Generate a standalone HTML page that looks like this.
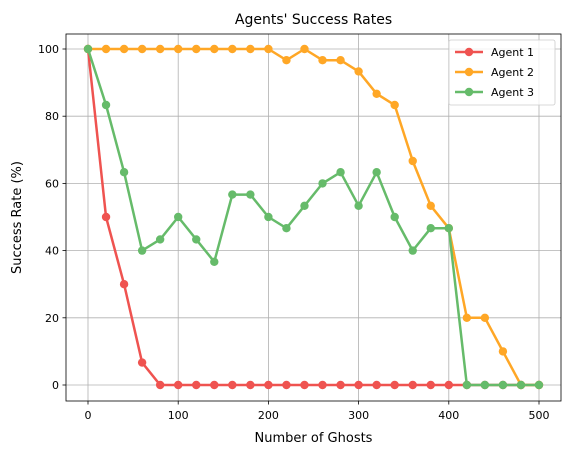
<!DOCTYPE html>
<html><head><meta charset="utf-8"><style>
body{margin:0;background:#fff;}
svg text{font-family:"DejaVu Sans","Liberation Sans",sans-serif;fill:#000;}
</style></head><body>
<svg id="chart" width="571" height="455" xmlns="http://www.w3.org/2000/svg">
<rect width="571" height="455" fill="#fff"/>
<g id="grid"></g>
<g id="axes"></g>
<g id="series"></g>
<text x="313.5" y="24" text-anchor="middle" font-size="14">Agents' Success Rates</text>
<text x="313.5" y="442" text-anchor="middle" font-size="13">Number of Ghosts</text>
<text x="21" y="217.5" text-anchor="middle" font-size="13" transform="rotate(-90 21 217.5)">Success Rate (%)</text>
<g id="legend"></g>
</svg>
<script>
const ghosts=[0,20,40,60,80,100,120,140,160,180,200,220,240,260,280,300,320,340,360,380,400,420,440,460,480,500];
const agent1=[100,50,30,6.67,0,0,0,0,0,0,0,0,0,0,0,0,0,0,0,0,0,0,0,0,0,0];
const agent2=[100,100,100,100,100,100,100,100,100,100,100,96.67,100,96.67,96.67,93.33,86.67,83.33,66.67,53.33,46.67,20,20,10,0,0];
const agent3=[100,83.33,63.33,40,43.33,50,43.33,36.67,56.67,56.67,50,46.67,53.33,60,63.33,53.33,63.33,50,40,46.67,46.67,0,0,0,0,0];
const xTicks=[0,100,200,300,400,500];
const yTicks=[0,20,40,60,80,100];
const seriesNames=["Agent 1","Agent 2","Agent 3"];
const NS="http://www.w3.org/2000/svg";
const L=66,R=561,T=34,B=401;
const xs=v=>88+v*(539-88)/500;
const ys=v=>385-v*(385-49)/100;
function mk(tag,attrs,parent){const e=document.createElementNS(NS,tag);for(const k in attrs)e.setAttribute(k,attrs[k]);parent.appendChild(e);return e;}
const grid=document.getElementById('grid'),axes=document.getElementById('axes'),ser=document.getElementById('series'),leg=document.getElementById('legend');
xTicks.forEach(t=>{const x=xs(t);
 const g=mk('line',{x1:x,x2:x,y1:T,y2:B,stroke:'#b0b0b0','stroke-width':0.8},grid);
 
 mk('line',{x1:x,x2:x,y1:B,y2:B+3.5,stroke:'#000','stroke-width':0.8},axes);
 const tx=mk('text',{x:x,y:B+18,'text-anchor':'middle','font-size':11},axes);tx.textContent=t;
 });
yTicks.forEach(t=>{const y=ys(t);
 const g=mk('line',{x1:L,x2:R,y1:y,y2:y,stroke:'#b0b0b0','stroke-width':0.8},grid);
 
 mk('line',{x1:L-3.5,x2:L,y1:y,y2:y,stroke:'#000','stroke-width':0.8},axes);
 const tx=mk('text',{x:L-7,y:y+4,'text-anchor':'end','font-size':11},axes);tx.textContent=t;
 });
const fr=mk('rect',{x:L,y:T,width:R-L,height:B-T,fill:'none',stroke:'#000','stroke-width':0.8},axes);

const data=[agent1,agent2,agent3],colors=['#ef5350','#ffa726','#66bb6a'];
data.forEach((d,i)=>{
 const g=mk('g',{},ser);
 
 const pl=mk('polyline',{points:d.map((v,j)=>xs(ghosts[j])+','+ys(v)).join(' '),fill:'none',stroke:colors[i],'stroke-width':2.5,'stroke-linejoin':'round'},g);
 
 d.forEach((v,j)=>{const c=mk('circle',{cx:xs(ghosts[j]),cy:ys(v),r:4.2,fill:colors[i]},g);
  });
});
const lb=mk('rect',{x:449,y:40,width:106,height:65,fill:'#fff','fill-opacity':0.8,stroke:'#ccc','stroke-width':0.8,rx:2},leg);

seriesNames.forEach((n,i)=>{const y=52+i*20;
 const g=mk('g',{},leg);
 mk('line',{x1:455,x2:483,y1:y,y2:y,stroke:colors[i],'stroke-width':2.5},g);
 mk('circle',{cx:469,cy:y,r:4.2,fill:colors[i]},g);
 const t=mk('text',{x:491,y:y+4,'font-size':11},g);t.textContent=n;});
</script>
</body></html>
